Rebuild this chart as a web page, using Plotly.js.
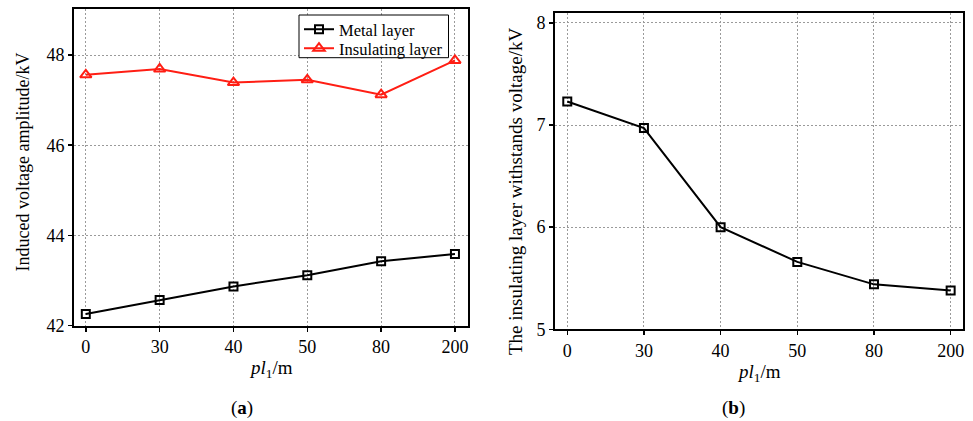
<!DOCTYPE html>
<html>
<head>
<meta charset="utf-8">
<script src="https://cdn.plot.ly/plotly-3.0.1.min.js"></script>
<style>
  html, body { margin: 0; padding: 0; background: #fff; }
  #chart { width: 973px; height: 421px; }
</style>
</head>
<body>
<div id="chart"></div>
<script>
// Cable segment length pl1 (m), shown as evenly spaced categories
const lengths = ["0", "30", "40", "50", "80", "200"];

// (a) induced voltage amplitude, kV
const metalLayer = [42.26, 42.57, 42.87, 43.12, 43.43, 43.59];
const insulatingLayer = [47.56, 47.69, 47.39, 47.45, 47.12, 47.88];

// (b) voltage withstood by the insulating layer, kV
const insulationWithstand = [7.23, 6.97, 6.00, 5.66, 5.44, 5.38];

const W = 973, H = 421;
const px = x => x / W;
const py = y => 1 - y / H;

const serif = "Liberation Serif, Times New Roman, serif";
const red = "rgb(255,30,20)";

const traces = [
  {
    x: lengths, y: metalLayer, name: "Metal layer",
    type: "scatter", mode: "lines+markers",
    xaxis: "x", yaxis: "y", legend: "legend",
    line: { color: "#000", width: 2 },
    marker: { symbol: "square-open", size: 8, color: "#000", line: { width: 2, color: "#000" } }
  },
  {
    x: lengths, y: insulatingLayer, name: "Insulating layer",
    type: "scatter", mode: "lines+markers",
    xaxis: "x", yaxis: "y", legend: "legend2",
    line: { color: red, width: 2 },
    marker: { symbol: "triangle-up-open", size: 10, color: red, line: { width: 2, color: red } }
  },
  {
    x: lengths, y: insulationWithstand, name: "Withstand voltage",
    type: "scatter", mode: "lines+markers",
    xaxis: "x2", yaxis: "y2", showlegend: false,
    line: { color: "#000", width: 2 },
    marker: { symbol: "square-open", size: 8, color: "#000", line: { width: 2, color: "#000" } }
  }
];

const axisCommon = {
  showline: true, mirror: true, linecolor: "#000", linewidth: 2,
  ticks: "outside", ticklen: 4, tickwidth: 1.5, tickcolor: "#000",
  showgrid: true, gridcolor: "#9a9a9a", gridwidth: 1, griddash: "2px,2px",
  zeroline: false,
  tickfont: { family: serif, size: 18, color: "#000" }
};

// one legend row per series, framed together by a single box
const legendRow = top => ({
  x: px(299), y: py(top), xanchor: "left", yanchor: "top",
  bgcolor: "rgba(0,0,0,0)", borderwidth: 0,
  font: { family: serif, size: 16.5, color: "#000" }
});

const titleFont = size => ({ family: serif, size: size, color: "#000" });

const layout = {
  width: W, height: H,
  margin: { l: 0, r: 0, t: 0, b: 0 },
  paper_bgcolor: "#fff", plot_bgcolor: "#fff",
  showlegend: true,
  legend: legendRow(12),
  legend2: legendRow(31),
  xaxis: Object.assign({}, axisCommon, {
    type: "category", domain: [px(74), px(467.5)], anchor: "y",
    range: [-0.16, 5.17]
  }),
  yaxis: Object.assign({}, axisCommon, {
    domain: [py(325.7), py(9)], anchor: "x",
    range: [42, 49.02], tickvals: [42, 44, 46, 48]
  }),
  xaxis2: Object.assign({}, axisCommon, {
    type: "category", domain: [px(555), px(963.3)], anchor: "y2",
    range: [-0.16, 5.165]
  }),
  yaxis2: Object.assign({}, axisCommon, {
    domain: [py(329.3), py(12.7)], anchor: "x2",
    range: [5, 8.1], tickvals: [5, 6, 7, 8]
  }),
  shapes: [
    { type: "rect", xref: "paper", yref: "paper", layer: "above",
      x0: px(299), x1: px(448.5), y0: py(57.7), y1: py(15),
      fillcolor: "#fff", line: { color: "#000", width: 1 } }
  ],
  annotations: [
    { text: "Induced voltage amplitude/kV", textangle: -90,
      xref: "paper", yref: "paper", x: px(22), y: py(162.5),
      xanchor: "center", yanchor: "middle", showarrow: false,
      font: titleFont(18) },
    { text: "The insulating layer withstands voltage/kV", textangle: -90,
      xref: "paper", yref: "paper", x: px(516), y: py(192),
      xanchor: "center", yanchor: "middle", showarrow: false,
      font: titleFont(19) },
    { text: "<i>pl</i><sub>1</sub>/m",
      xref: "paper", yref: "paper", x: px(270.7), y: py(369),
      xanchor: "center", yanchor: "middle", showarrow: false,
      font: titleFont(19) },
    { text: "<i>pl</i><sub>1</sub>/m",
      xref: "paper", yref: "paper", x: px(759), y: py(373),
      xanchor: "center", yanchor: "middle", showarrow: false,
      font: titleFont(19) },
    { text: "(<b>a</b>)",
      xref: "paper", yref: "paper", x: px(241.7), y: py(408),
      xanchor: "center", yanchor: "middle", showarrow: false,
      font: titleFont(19) },
    { text: "(<b>b</b>)",
      xref: "paper", yref: "paper", x: px(733), y: py(408),
      xanchor: "center", yanchor: "middle", showarrow: false,
      font: titleFont(19) }
  ]
};

Plotly.newPlot("chart", traces, layout, { displayModeBar: false, staticPlot: true });
</script>
</body>
</html>
